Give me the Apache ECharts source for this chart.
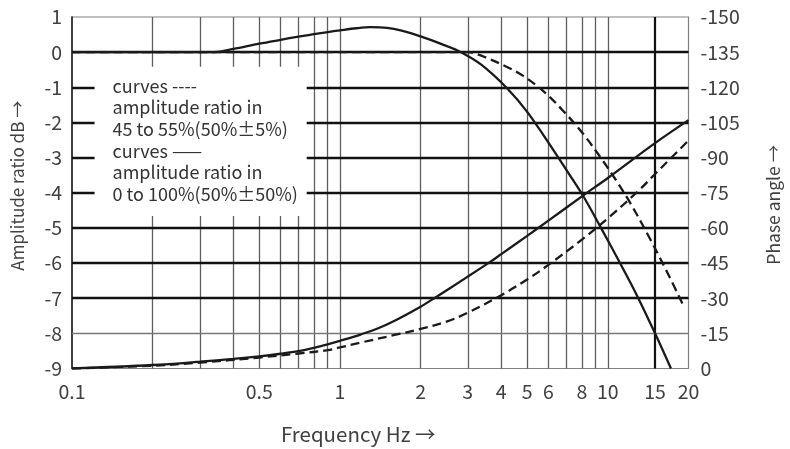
<!DOCTYPE html>
<html>
<head>
<meta charset="utf-8">
<script src="https://cdn.jsdelivr.net/npm/echarts@6/dist/echarts.min.js"></script>
<style>html,body{margin:0;padding:0;background:#fff}#c{width:790px;height:449px}</style>
</head>
<body>
<div id="c"></div>
<script>
// ---- data ----
const xTickLabels = [0.1, 0.5, 1, 2, 3, 4, 5, 6, 8, 10, 15, 20];
const xThinGrid = [0.2, 0.3, 0.4, 0.5, 0.6, 0.7, 0.8, 0.9, 1, 2, 3, 4, 5, 6, 7, 8, 9, 10];
const xThickGrid = [15];
const yThickGrid = [0, -1, -2, -3, -4, -5, -6, -7];
const yThinGrid = [-8];

const ampSolidF = [0.1, 0.2, 0.3, 0.34, 0.4, 0.5, 0.6, 0.7, 0.8, 0.9, 1.0, 1.15, 1.3, 1.5, 1.7, 2.0, 2.4, 2.83, 3.36, 4.17, 5, 6.28, 7.0, 8.1, 9.35, 11.1, 12.8, 15, 17.2];
const ampSolidDb = [0, 0, 0, 0, 0.09, 0.24, 0.35, 0.44, 0.51, 0.57, 0.62, 0.68, 0.71, 0.69, 0.61, 0.45, 0.23, 0, -0.35, -1.0, -1.7, -2.8, -3.35, -4.1, -4.95, -6.0, -6.9, -8.0, -9.0];

const ampDashF = [0.1, 0.5, 1, 2, 3.0, 3.2, 3.45, 4.2, 4.8, 5.77, 6.83, 8.1, 9.5, 10.7, 12.1, 14.3, 17, 19.1];
const ampDashDb = [0, 0, 0, 0, 0, -0.04, -0.13, -0.42, -0.66, -1.12, -1.68, -2.33, -3.05, -3.63, -4.28, -5.28, -6.4, -7.2];

const phaseSolidF = [0.1, 0.2, 0.3, 0.4, 0.5, 0.6, 0.7, 0.8, 0.9, 1.0, 1.2, 1.39, 1.6, 2.0, 2.25, 3.0, 3.65, 4, 5, 6, 8.1, 10, 15, 20];
const phaseSolidDeg = [0, -1.5, -2.9, -4.1, -5.2, -6.3, -7.4, -8.8, -10.3, -11.8, -14.6, -17.2, -20.4, -26.4, -30.0, -39.2, -45.6, -48.8, -56.6, -63.1, -73.9, -81.3, -96.2, -106];

const phaseDashF = [0.1, 0.2, 0.3, 0.5, 0.7, 0.9, 1, 1.2, 1.6, 2, 2.5, 3, 4, 5, 6, 8, 10, 13, 15, 17, 20];
const phaseDashDeg = [0, -1.2, -2.5, -4.7, -6.4, -7.8, -9.0, -11.1, -14.3, -16.9, -20.0, -23.8, -31.3, -38.0, -44.2, -55.0, -64.1, -75.8, -83.0, -89.2, -97.3];

const legendLines = ['curves ----', 'amplitude ratio in', '45 to 55%(50%\u00b15%)', 'curves \u2014\u2014', 'amplitude ratio in', '0 to 100%(50%\u00b150%)'];
const legendBox = [[0.1214, -0.418], [0.7516, -4.66]];

const zip = (a, b) => a.map((v, i) => [v, b[i]]);
const FONT = '"Noto Sans CJK JP", "Noto Sans", sans-serif';
const lblColor = '#404040';
const curveColor = '#1a1a1a';

const chart = echarts.init(document.getElementById('c'), null, {renderer: 'canvas'});
const curve = (name, f, v, axis, dashed) => ({
  name, type: 'line', z: 5, yAxisIndex: axis, data: zip(f, v), showSymbol: false,
  smooth: 0.35,
  lineStyle: {color: curveColor, width: 2.3, type: dashed ? [9, 5] : 'solid'}
});
chart.setOption({
  animation: false,
  backgroundColor: '#fff',
  textStyle: {fontFamily: FONT},
  grid: {left: 72, right: 98, top: 17, bottom: 80, show: true, borderColor: '#808080', borderWidth: 1.2, containLabel: false},
  xAxis: {
    type: 'log', logBase: 10, min: 0.1, max: 20,
    name: 'Frequency Hz \u2192', nameLocation: 'middle', nameGap: 55,
    nameTextStyle: {fontSize: 20.5, color: lblColor, fontFamily: FONT, padding: [0, 44, 0, 0]},
    axisLine: {show: false}, axisTick: {show: false}, splitLine: {show: false}, minorSplitLine: {show: false},
    axisLabel: {customValues: xTickLabels, fontSize: 19.5, color: lblColor, margin: 13, fontFamily: FONT,
      formatter: v => String(+(+v).toPrecision(3))}
  },
  yAxis: [{
    type: 'value', min: -9, max: 1, interval: 1,
    name: 'Amplitude ratio dB \u2192', nameLocation: 'middle', nameGap: 46, nameRotate: 90,
    nameTextStyle: {fontSize: 17, color: lblColor, fontFamily: FONT, padding: [0, 0, 0, 14]},
    axisLine: {show: true, lineStyle: {color: '#222', width: 1.6}}, axisTick: {show: false}, splitLine: {show: false},
    axisLabel: {fontSize: 19.5, color: lblColor, margin: 10, fontFamily: FONT}
  }, {
    type: 'value', min: -150, max: 0, interval: 15, inverse: true, position: 'right',
    name: 'Phase angle \u2192', nameLocation: 'middle', nameGap: 76, nameRotate: 90,
    nameTextStyle: {fontSize: 17.5, color: lblColor, fontFamily: FONT, padding: [0, 24, 0, 0]},
    axisLine: {show: false}, axisTick: {show: false}, splitLine: {show: false},
    axisLabel: {fontSize: 19.5, color: lblColor, margin: 12, fontFamily: FONT}
  }],
  series: [
    {
      name: 'grid', type: 'line', data: [], z: 1, silent: true,
      markLine: {
        z: 1, silent: true, symbol: 'none', label: {show: false}, animation: false,
        data: [
          ...xThinGrid.map(v => ({xAxis: v, lineStyle: {color: '#5e5e5e', width: 1.3, type: 'solid'}})),
          ...xThickGrid.map(v => ({xAxis: v, lineStyle: {color: '#111', width: 2.2, type: 'solid'}})),
          ...yThickGrid.map(v => ({yAxis: v, lineStyle: {color: '#111', width: 2.3, type: 'solid'}})),
          ...yThinGrid.map(v => ({yAxis: v, lineStyle: {color: '#777', width: 1.3, type: 'solid'}}))
        ]
      }
    },
    {
      name: 'legendbox', type: 'line', data: [], z: 2, silent: true,
      markArea: {
        z: 2, silent: true,
        itemStyle: {color: '#fff', borderWidth: 0},
        label: {show: true, position: 'insideTopLeft', distance: 0, padding: [8, 0, 0, 18],
          formatter: legendLines.join('\n'), fontSize: 18, lineHeight: 21.7, color: '#333', fontFamily: FONT},
        data: [[{coord: legendBox[0]}, {coord: legendBox[1]}]]
      }
    },
    curve('ampSolid', ampSolidF, ampSolidDb, 0, false),
    curve('ampDash', ampDashF, ampDashDb, 0, true),
    curve('phaseSolid', phaseSolidF, phaseSolidDeg, 1, false),
    curve('phaseDash', phaseDashF, phaseDashDeg, 1, true)
  ]
});
</script>
</body>
</html>
